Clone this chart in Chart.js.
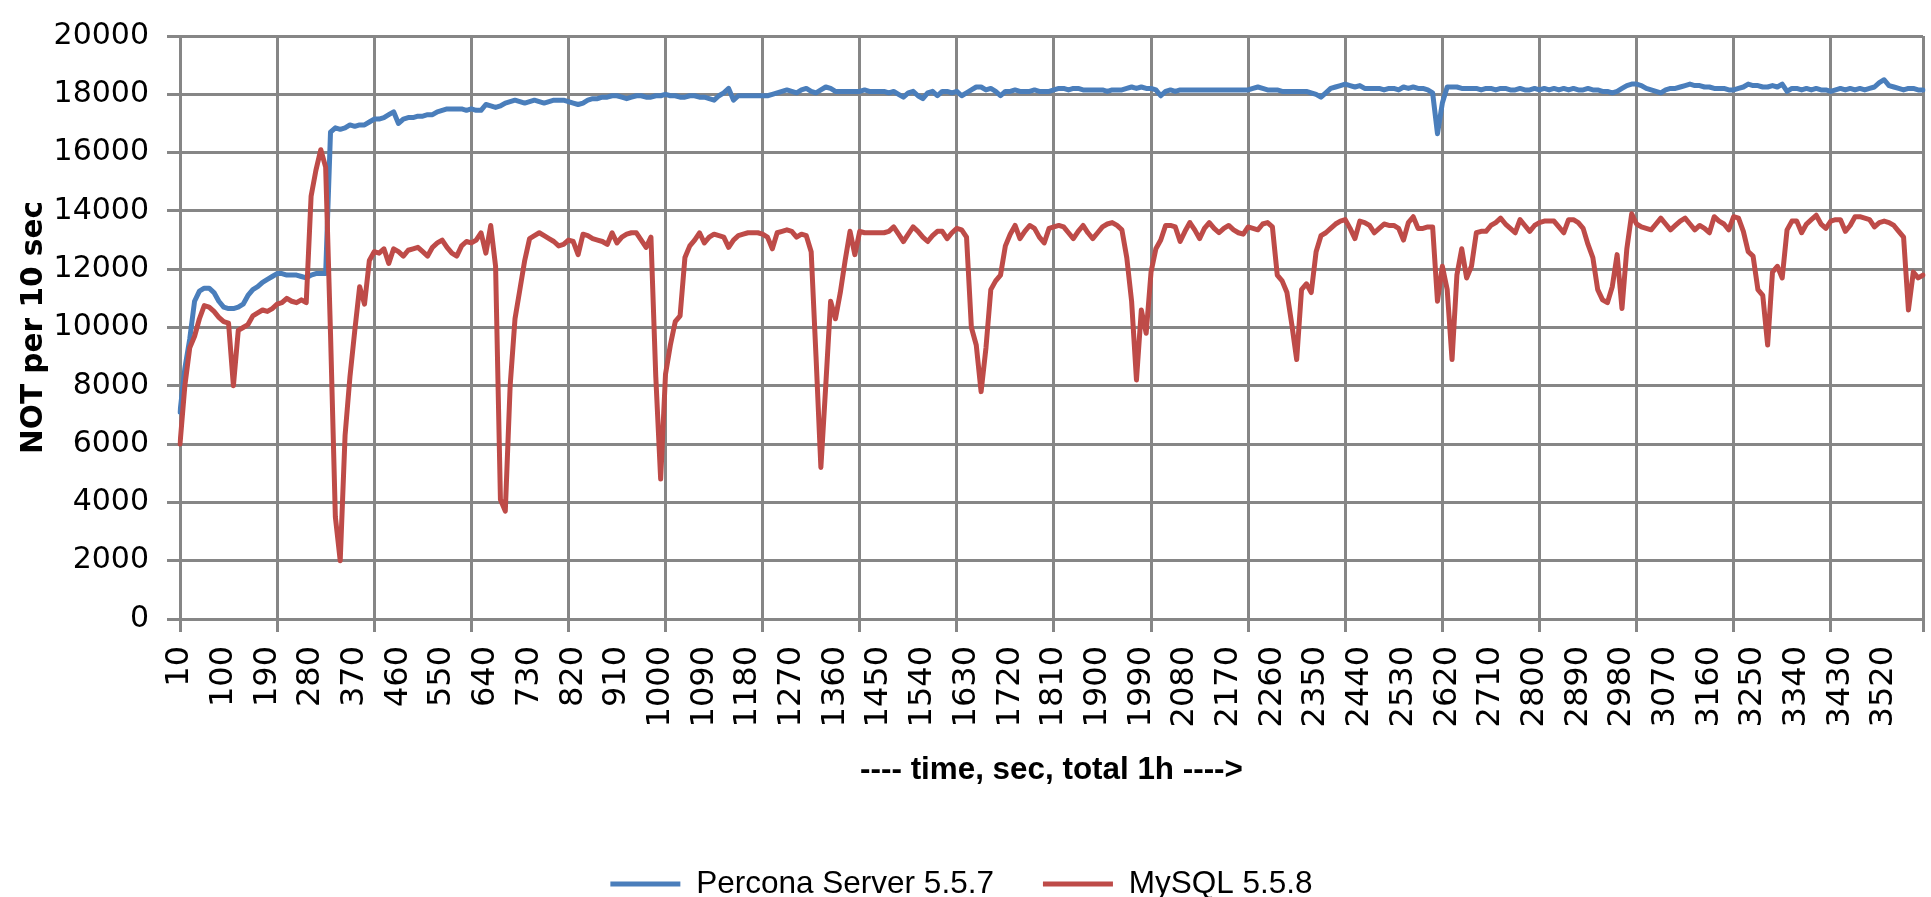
<!DOCTYPE html>
<html><head><meta charset="utf-8">
<script src="https://cdn.jsdelivr.net/npm/chart.js@4.4.1/dist/chart.umd.min.js"></script>
<style>html,body{margin:0;padding:0;background:#fff;overflow:hidden}#wrap{width:1931px;height:897px}</style>
</head><body><div id="wrap"><canvas id="c" width="1931" height="897"></canvas></div>
<script>
// ---- data ----
const times = Array.from({length: 360}, (_, i) => 10 + 10 * i); // category axis: 10 s steps
const labelEvery = 9;   // a tick label every 90 s
const gridEvery = 20;   // a vertical gridline every 200 s
const yMin = 0, yMax = 20000, yStep = 2000;
const seriesNames = ['Percona Server 5.5.7', 'MySQL 5.5.8'];
const xTitleText = '---- time, sec, total 1h ---->';
const yTitleText = 'NOT per 10 sec';

const percona = [
 7100, 8600, 9600,10900,11250,11350,11350,11200,10900,10700,10650,10650,10700,10800,11100,11300,11400,11550,11650,11750,
 11850,11850,11800,11800,11800,11750,11700,11800,11850,11850,11850,16700,16850,16800,16850,16950,16900,16950,16950,17050,
 17150,17150,17200,17300,17400,17000,17150,17200,17200,17250,17250,17300,17300,17400,17450,17500,17500,17500,17500,17450,
 17500,17450,17450,17650,17600,17550,17600,17700,17750,17800,17750,17700,17750,17800,17750,17700,17750,17800,17800,17800,
 17750,17700,17650,17700,17800,17850,17850,17900,17900,17950,17950,17900,17850,17900,17950,17950,17900,17900,17950,17950,
 18000,17950,17950,17900,17900,17950,17950,17900,17900,17850,17800,17950,18050,18200,17800,17950,17950,17950,17950,17950,
 17950,17950,18000,18050,18100,18150,18100,18050,18150,18200,18100,18050,18150,18250,18200,18100,18100,18100,18100,18100,
 18100,18150,18100,18100,18100,18100,18050,18100,18000,17900,18050,18100,17950,17850,18050,18100,17950,18100,18100,18050,
 18100,17950,18050,18150,18250,18250,18150,18200,18100,17950,18100,18100,18150,18100,18100,18100,18150,18100,18100,18100,
 18150,18200,18200,18150,18200,18200,18150,18150,18150,18150,18150,18100,18150,18150,18150,18200,18250,18200,18250,18200,
 18200,18150,17950,18100,18150,18100,18150,18150,18150,18150,18150,18150,18150,18150,18150,18150,18150,18150,18150,18150,
 18150,18200,18250,18200,18150,18150,18150,18100,18100,18100,18100,18100,18100,18050,18000,17900,18050,18200,18250,18300,
 18350,18300,18250,18300,18200,18200,18200,18200,18150,18200,18200,18150,18250,18200,18250,18200,18200,18150,18050,16650,
 17700,18250,18250,18250,18200,18200,18200,18200,18150,18200,18200,18150,18200,18200,18150,18150,18200,18150,18150,18200,
 18150,18200,18150,18200,18150,18200,18150,18200,18150,18150,18200,18150,18150,18100,18100,18050,18100,18200,18300,18350,
 18350,18300,18200,18150,18100,18050,18150,18200,18200,18250,18300,18350,18300,18300,18250,18250,18200,18200,18200,18150,
 18150,18200,18250,18350,18300,18300,18250,18250,18300,18250,18350,18100,18200,18200,18150,18200,18150,18200,18150,18150,
 18100,18150,18200,18150,18200,18150,18200,18150,18200,18250,18400,18500,18300,18250,18200,18150,18200,18200,18150,18150
];

const mysql = [
 6000, 8000, 9300, 9700,10300,10750,10700,10550,10350,10200,10150, 8000, 9900,10000,10100,10400,10500,10600,10550,10650,
 10800,10850,11000,10900,10850,10950,10850,14500,15400,16100,15500, 9800, 3500, 2000, 6300, 8300, 9900,11400,10800,12300,
 12600,12550,12700,12200,12700,12600,12450,12650,12700,12750,12600,12450,12750,12900,13000,12750,12550,12450,12800,12950,
 12900,13000,13250,12550,13500,12100, 4100, 3700, 8000,10300,11300,12300,13050,13150,13250,13150,13050,12950,12800,12850,
 13000,12950,12500,13200,13150,13050,13000,12950,12850,13250,12900,13100,13200,13250,13250,13000,12750,13100, 8300, 4800,
 8400, 9400,10200,10400,12400,12800,13000,13250,12900,13100,13200,13150,13100,12750,13000,13150,13200,13250,13250,13250,
 13200,13100,12700,13250,13300,13350,13300,13100,13200,13150,12600, 9000, 5200, 8000,10900,10300,11200,12300,13300,12500,
 13300,13250,13250,13250,13250,13250,13300,13450,13200,12950,13200,13450,13300,13100,12950,13150,13300,13300,13050,13250,
 13400,13350,13100,10000, 9400, 7800, 9300,11300,11600,11800,12800,13200,13500,13050,13300,13500,13400,13100,12900,13400,
 13450,13500,13450,13250,13050,13300,13500,13250,13050,13250,13450,13550,13600,13500,13350,12400,10900, 8200,10600, 9800,
 11900,12700,13000,13500,13500,13450,12950,13300,13600,13350,13050,13400,13600,13400,13250,13400,13500,13350,13250,13200,
 13450,13400,13350,13550,13600,13450,11800,11600,11200,10100, 8900,11300,11500,11200,12600,13150,13250,13400,13550,13650,
 13700,13400,13050,13650,13600,13500,13250,13400,13550,13500,13500,13400,13000,13600,13800,13400,13400,13450,13450,10900,
 12100,11300, 8900,11800,12700,11700,12100,13250,13300,13300,13500,13600,13750,13550,13400,13250,13700,13500,13300,13500,
 13600,13650,13650,13650,13450,13250,13700,13700,13600,13400,12850,12400,11300,10950,10850,11400,12500,10650,12700,13900,
 13550,13450,13400,13350,13550,13750,13550,13350,13500,13650,13750,13550,13350,13500,13400,13250,13800,13650,13550,13350,
 13800,13750,13300,12600,12450,11300,11100, 9400,11900,12100,11700,13350,13650,13650,13250,13550,13700,13850,13550,13400,
 13650,13700,13700,13300,13500,13800,13800,13750,13700,13450,13600,13650,13600,13500,13300,13100,10600,11900,11700,11800
];

// ---- layout / style ----
const LS = "'Liberation Sans', Arial, sans-serif";
const DV = "'DejaVu Sans', Verdana, sans-serif";
const mctx = document.createElement('canvas').getContext('2d');
function fitSize(text, family, weight, target) {
  mctx.font = weight + ' 100px ' + family;
  return 100 * target / mctx.measureText(text).width;
}
const yTitleSize = fitSize(yTitleText, DV, 'bold', 253);
const xTitleSize = fitSize(xTitleText, LS, 'bold', 383);
const legendSize = fitSize(seriesNames[0], LS, 'normal', 298);

const AREA_TOP = 26, AREA_BOTTOM = 619, AREA_LEFT = 180, RIGHT_PAD = 8;
const LEG_PAD = 49;
const XAXIS_H = 884 - AREA_BOTTOM - LEG_PAD - legendSize / 2;
const PAD_BOTTOM = 897 - (AREA_BOTTOM + XAXIS_H + legendSize + LEG_PAD + 10);
const xTitlePadBottom = AREA_BOTTOM + XAXIS_H - 770 - 0.6 * xTitleSize;
const yTitlePadTop = 34 - 0.6 * yTitleSize;

const GRID = '#868686';
const BLUE = '#4A7EBB', RED = '#BE4B48';

new Chart(document.getElementById('c'), {
  type: 'line',
  data: {
    labels: times,
    datasets: [
      { label: seriesNames[0], data: percona, borderColor: BLUE, backgroundColor: BLUE,
        borderWidth: 5, pointRadius: 0, pointBorderWidth: 5, tension: 0, order: 1,
        borderJoinStyle: 'round', borderCapStyle: 'round' },
      { label: seriesNames[1], data: mysql, borderColor: RED, backgroundColor: RED,
        borderWidth: 5, pointRadius: 0, pointBorderWidth: 5, tension: 0, order: 0,
        borderJoinStyle: 'round', borderCapStyle: 'round' }
    ]
  },
  options: {
    responsive: false,
    animation: false,
    devicePixelRatio: 1,
    layout: { padding: { top: AREA_TOP, left: 0, right: RIGHT_PAD, bottom: PAD_BOTTOM } },
    plugins: {
      tooltip: { enabled: false },
      legend: {
        position: 'bottom',
        labels: {
          usePointStyle: true, pointStyle: 'line', pointStyleWidth: 70,
          padding: LEG_PAD, color: '#000',
          font: { family: LS, size: legendSize },
          sort: (a, b) => a.datasetIndex - b.datasetIndex
        }
      }
    },
    scales: {
      x: {
        type: 'category',
        offset: false,
        afterFit: s => { s.height = XAXIS_H; s.paddingLeft = 0; s.paddingRight = 0; },
        grid: {
          color: ctx => (ctx.index % gridEvery === 0 || ctx.index === times.length - 1) ? GRID : 'rgba(0,0,0,0)',
          lineWidth: 3, tickLength: 13, drawOnChartArea: true
        },
        border: { color: GRID, width: 3 },
        ticks: {
          autoSkip: false, minRotation: 90, maxRotation: 90, padding: 14, color: '#000',
          font: { family: DV, size: 32 },
          callback: (v, i) => (i % labelEvery === 0 ? String(times[i]) : '')
        },
        title: {
          display: true, text: xTitleText, color: '#000',
          font: { family: LS, size: xTitleSize, weight: 'bold' },
          padding: { top: 0, bottom: xTitlePadBottom }
        }
      },
      y: {
        min: yMin, max: yMax,
        afterFit: s => { s.width = AREA_LEFT; },
        grid: { color: GRID, lineWidth: 3, tickLength: 13 },
        border: { color: GRID, width: 3 },
        ticks: {
          stepSize: yStep, padding: 18, color: '#000',
          font: { family: DV, size: 30 },
          callback: v => String(v)
        },
        title: {
          display: true, text: yTitleText, color: '#000',
          font: { family: DV, size: yTitleSize, weight: 'bold' },
          padding: { top: yTitlePadTop, bottom: 0 }
        }
      }
    }
  }
});
</script>
</body></html>
